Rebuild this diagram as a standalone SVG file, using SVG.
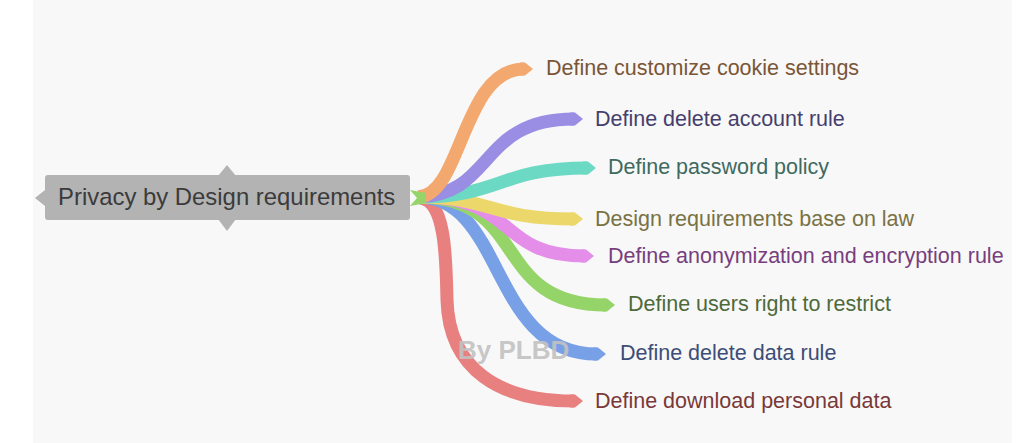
<svg xmlns="http://www.w3.org/2000/svg" width="1024" height="443" viewBox="0 0 1024 443">
<style>
.br{fill:none;stroke-width:13;stroke-linecap:butt}
.lb{font-family:"Liberation Sans",Arial,sans-serif;font-size:21.5px}
</style>
<rect x="0" y="0" width="1024" height="443" fill="#ffffff"/>
<rect x="33" y="0" width="979" height="443" fill="#f8f8f8"/>
<g id="connectors">
  <g id="c-red"><path class="br" stroke="#e88080" d="M420 198 C446 200,446 260,447 300 C449 370,500 401,574 401"/><polygon fill="#e88080" points="570,394.5 575,394.5 583,401 575,407.5 570,407.5"/></g>
  <g id="c-blue"><path class="br" stroke="#78a0e6" d="M418 197 C505 197,490 354,597 354"/><polygon fill="#78a0e6" points="593,347.5 598,347.5 606,354 598,360.5 593,360.5"/></g>
  <g id="c-green"><path class="br" stroke="#95d468" d="M418 197 C530 197,490 305,606 305"/><polygon fill="#95d468" points="602,298.5 607,298.5 615,305 607,311.5 602,311.5"/></g>
  <g id="c-pink"><path class="br" stroke="#e48eea" d="M418 197 C520 197,495 256,585 256"/><polygon fill="#e48eea" points="581,249.5 586,249.5 594,256 586,262.5 581,262.5"/></g>
  <g id="c-yellow"><path class="br" stroke="#ecd86a" d="M418 197 C490 197,490 219,574 219"/><polygon fill="#ecd86a" points="570,212.5 575,212.5 583,219 575,225.5 570,225.5"/></g>
  <g id="c-teal"><path class="br" stroke="#6cd9c4" d="M418 197 C500 197,500 168,587 168"/><polygon fill="#6cd9c4" points="583,161.5 588,161.5 596,168 588,174.5 583,174.5"/></g>
  <g id="c-purple"><path class="br" stroke="#9a8ee4" d="M418 197 C495 195,478 119,574 119"/><polygon fill="#9a8ee4" points="570,112.5 575,112.5 583,119 575,125.5 570,125.5"/></g>
  <g id="c-orange"><path class="br" stroke="#f2a86e" d="M418 197 C462 196,462 69,524 69"/><polygon fill="#f2a86e" points="520,62.5 525,62.5 533,69 525,75.5 520,75.5"/></g>
  <polygon fill="#95d468" points="410,190 426,193 426,203 410,206 417,198"/>
</g>
<g id="root">
  <rect x="45" y="175" width="365" height="45" rx="3" fill="#b3b3b3"/>
  <polygon fill="#b3b3b3" points="45,190 35,198 45,206"/>
  <polygon fill="#b3b3b3" points="218,176 227,165 236,176"/>
  <polygon fill="#b3b3b3" points="218,219 227,231 236,219"/>
  <text x="58" y="205" font-family="Liberation Sans, Arial, sans-serif" font-size="23.9" fill="#3b3b3b">Privacy by Design requirements</text>
</g>
<g id="n1"><text class="lb" x="546" y="75" fill="#7a5636">Define customize cookie settings</text></g>
<g id="n2"><text class="lb" x="595" y="126" fill="#463f6e">Define delete account rule</text></g>
<g id="n3"><text class="lb" x="608" y="174" fill="#3e6a5f">Define password policy</text></g>
<g id="n4"><text class="lb" x="595" y="226" fill="#797244">Design requirements base on law</text></g>
<g id="n5"><text class="lb" x="608" y="263" fill="#773e7e">Define anonymization and encryption rule</text></g>
<g id="n6"><text class="lb" x="628" y="311" fill="#4e6a3a">Define users right to restrict</text></g>
<g id="n7"><text class="lb" x="620" y="360" fill="#3c4d77">Define delete data rule</text></g>
<g id="n8"><text class="lb" x="595" y="408" fill="#7a3838">Define download personal data</text></g>
<text x="458" y="359" font-family="Liberation Sans, Arial, sans-serif" font-weight="bold" font-size="26" fill="#c2c2c2" fill-opacity="0.92">By PLBD</text>
</svg>
